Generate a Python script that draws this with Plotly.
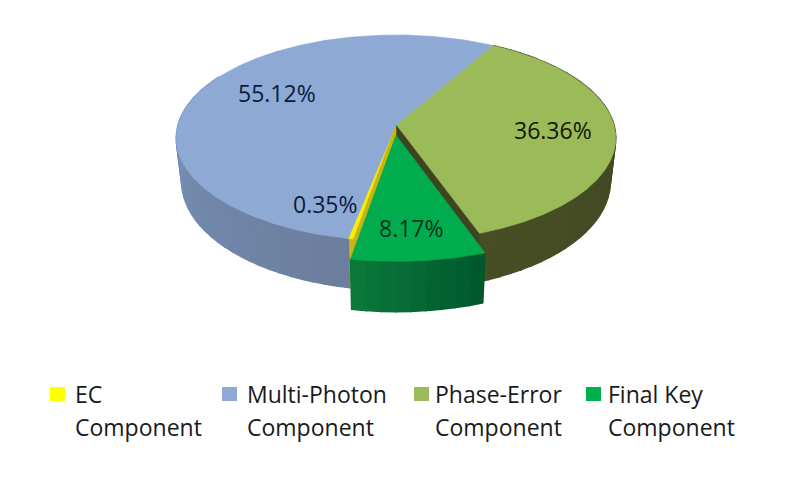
import math
import plotly.graph_objects as go

# данные диаграммы (по часовой стрелке, начиная с дальней части круга)
slice_names = ["Phase-Error", "Final Key", "EC", "Multi-Photon"]
slice_values = [36.36, 8.17, 0.35, 55.12]
slice_labels = ["36.36%", "8.17%", "0.35%", "55.12%"]
label_x = [553, 411, 325, 277]
label_y = [130, 228, 204, 93]
label_colors = ["#10180a", "#04331c", "#0c1a40", "#0c1a40"]

top_colors = ["#9bbb59", "#00ac4e", "#f6f000", "#8eaad4"]
wall_left = ["#484f26", "#0c7c3c", "#c8b414", "#7a96c0"]
wall_right = ["#3c4420", "#00582c", "#c8b414", "#6c7e9c"]

legend_names = ["EC", "Multi-Photon", "Phase-Error", "Final Key"]
legend_colors = ["#ffff00", "#8eaad4", "#9bbb59", "#00b050"]
legend_swatch_x = [50, 222, 414, 586]
legend_text_x = [73, 245, 433, 606]

# параметры перспективы круга
cx = 396
cy = 125
radius = 218
tilt = 101.4
persp = 0.126
depth = 43
shrink = 0.975
start_angle = 29.5

# смещение и масштаб выдвинутого сектора
exploded = "Final Key"
explode_z = 0.1
explode_r = 1.05

# страница сдвигает график на поле body
page_margin = 8


def project(angle, r=1.0, dz=0.0, low=False):
    a = math.radians(angle)
    x = r * math.sin(a)
    z = -r * math.cos(a) + dz
    s = 1 / (1 - persp * z)
    px = cx + radius * x * s
    py = cy + tilt * z * s
    if low:
        px = cx + (px - cx) * shrink
        py = py + depth * s
    return px, py


def mix(c1, c2, t):
    v1 = [int(c1[i:i + 2], 16) for i in (1, 3, 5)]
    v2 = [int(c2[i:i + 2], 16) for i in (1, 3, 5)]
    v = [round(a + (b - a) * t) for a, b in zip(v1, v2)]
    return "rgb(%d,%d,%d)" % tuple(v)


def polygon(points, color, width=0.6):
    xs = [p[0] for p in points] + [points[0][0]]
    ys = [p[1] for p in points] + [points[0][1]]
    return go.Scatter(x=xs, y=ys, mode="lines", fill="toself", fillcolor=color,
                      line=dict(color=color, width=width), hoverinfo="skip", showlegend=False)


def arc(a1, a2, r=1.0, dz=0.0, low=False):
    n = max(2, int(abs(a2 - a1)) * 2)
    return [project(a1 + (a2 - a1) * i / n, r, dz, low) for i in range(n + 1)]


def outer_wall(a1, a2, c_right, c_left, r=1.0, dz=0.0):
    # боковая стенка рисуется полосками, чтобы получить градиент
    res = []
    n = max(1, int(abs(a2 - a1) / 3))
    for i in range(n):
        b1 = a1 + (a2 - a1) * i / n
        b2 = a1 + (a2 - a1) * (i + 1) / n
        pts = [project(b1, r, dz), project(b2, r, dz), project(b2, r, dz, True), project(b1, r, dz, True)]
        res.append(polygon(pts, mix(c_right, c_left, i / n), 1.5))
    return res


def inner_wall(angle, color, r=1.0, dz=0.0):
    pts = [project(angle, 0, dz), project(angle, r, dz), project(angle, r, dz, True), project(angle, 0, dz, True)]
    return polygon(pts, color)


# углы секторов считаем из значений
total = sum(slice_values)
angles = [start_angle]
for v in slice_values:
    angles.append(angles[-1] + v / total * 360)

fig = go.Figure()

# сначала стенки обычных секторов
for i, name in enumerate(slice_names):
    if name != exploded:
        a2 = min(angles[i + 1], 300)
        for t in outer_wall(angles[i], a2, wall_right[i], wall_left[i]):
            fig.add_trace(t)

# верхние грани
for i, name in enumerate(slice_names):
    if name != exploded:
        pts = [project(0, 0)] + arc(angles[i], angles[i + 1])
        fig.add_trace(polygon(pts, top_colors[i]))

# внутренние стенки, видимые из-за выдвинутого сектора
k = slice_names.index(exploded)
fig.add_trace(inner_wall(angles[k], wall_right[0]))
fig.add_trace(inner_wall(angles[k + 1], wall_left[k + 1]))

# выдвинутый сектор
for t in outer_wall(angles[k], angles[k + 1], wall_right[k], wall_left[k], explode_r, explode_z):
    fig.add_trace(t)
pts = [project(0, 0, explode_z)] + arc(angles[k], angles[k + 1], explode_r, explode_z)
fig.add_trace(polygon(pts, top_colors[k]))

# подписи процентов
annotations = []
for i in range(len(slice_labels)):
    annotations.append(dict(x=label_x[i], y=label_y[i], text=slice_labels[i], showarrow=False,
                            font=dict(color=label_colors[i], size=23)))

# легенда
shapes = []
for i in range(len(legend_names)):
    shapes.append(dict(type="rect", x0=legend_swatch_x[i], x1=legend_swatch_x[i] + 15, y0=387, y1=401,
                       fillcolor=legend_colors[i], line=dict(width=0)))
    annotations.append(dict(x=legend_text_x[i], y=394, text=legend_names[i], showarrow=False, xanchor="left",
                            font=dict(color="#1a1a1a", size=23)))
    annotations.append(dict(x=legend_text_x[i], y=427, text="Component", showarrow=False, xanchor="left",
                            font=dict(color="#1a1a1a", size=23)))

fig.update_layout(
    width=795 - page_margin, height=478 - page_margin, margin=dict(l=0, r=0, t=0, b=0),
    paper_bgcolor="white", plot_bgcolor="white", showlegend=False,
    font=dict(family="Open Sans"),
    xaxis=dict(range=[page_margin, 795], visible=False, fixedrange=True),
    yaxis=dict(range=[478, page_margin], visible=False, fixedrange=True),
    annotations=annotations, shapes=shapes,
)
fig.write_html("out.html")
